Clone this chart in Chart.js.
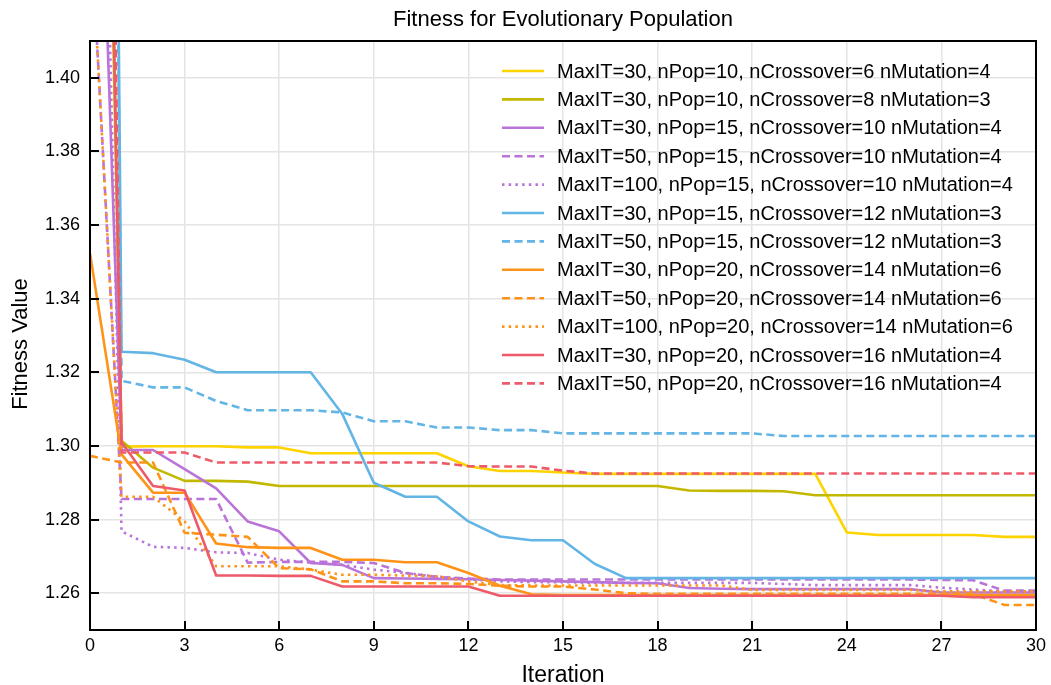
<!DOCTYPE html>
<html>
<head>
<meta charset="utf-8">
<script src="https://cdn.jsdelivr.net/npm/chart.js@4.4.0/dist/chart.umd.min.js"></script>
<style>
  html, body { margin: 0; padding: 0; background: #ffffff; }
  #wrap { width: 1051px; height: 685px; }
</style>
</head>
<body>
<div id="wrap"><canvas id="fitness" width="1051" height="685"></canvas></div>
<script>
// Iterations on the x axis
const iterations = [0,1,2,3,4,5,6,7,8,9,10,11,12,13,14,15,16,17,18,19,20,21,22,23,24,25,26,27,28,29,30];
const xTicks = [0,3,6,9,12,15,18,21,24,27,30];
const yTicks = [1.26,1.28,1.30,1.32,1.34,1.36,1.38,1.40];

const seriesLabels = [
  'MaxIT=30, nPop=10, nCrossover=6 nMutation=4',
  'MaxIT=30, nPop=10, nCrossover=8 nMutation=3',
  'MaxIT=30, nPop=15, nCrossover=10 nMutation=4',
  'MaxIT=50, nPop=15, nCrossover=10 nMutation=4',
  'MaxIT=100, nPop=15, nCrossover=10 nMutation=4',
  'MaxIT=30, nPop=15, nCrossover=12 nMutation=3',
  'MaxIT=50, nPop=15, nCrossover=12 nMutation=3',
  'MaxIT=30, nPop=20, nCrossover=14 nMutation=6',
  'MaxIT=50, nPop=20, nCrossover=14 nMutation=6',
  'MaxIT=100, nPop=20, nCrossover=14 nMutation=6',
  'MaxIT=30, nPop=20, nCrossover=16 nMutation=4',
  'MaxIT=50, nPop=20, nCrossover=16 nMutation=4'
];

// Best fitness per iteration for each configuration
const fit30_10_6 = [1.78,1.2998,1.2999,1.2999,1.2999,1.2996,1.2996,1.2980,1.2980,1.2980,1.2980,1.2980,1.2945,1.2932,1.2932,1.2928,1.2924,1.2924,1.2924,1.2924,1.2924,1.2924,1.2924,1.2924,1.2765,1.2758,1.2758,1.2758,1.2758,1.2753,1.2753];
const fit30_10_8 = [1.72,1.3014,1.2941,1.2905,1.2905,1.2903,1.2891,1.2891,1.2891,1.2891,1.2891,1.2891,1.2891,1.2891,1.2891,1.2891,1.2891,1.2891,1.2891,1.2879,1.2878,1.2878,1.2877,1.2866,1.2866,1.2866,1.2866,1.2866,1.2866,1.2866,1.2866];
const fit30_15_10 = [1.55,1.2989,1.2989,1.2937,1.2885,1.2795,1.2768,1.2682,1.2677,1.2641,1.2640,1.2639,1.2638,1.2636,1.2634,1.2632,1.2630,1.2628,1.2627,1.2614,1.2612,1.2611,1.2611,1.2611,1.2611,1.2611,1.2611,1.2602,1.2602,1.2602,1.2602];
const fit50_15_10 = [1.445,1.2856,1.2856,1.2856,1.2856,1.2683,1.2685,1.2685,1.2685,1.2682,1.2655,1.2644,1.2640,1.2637,1.2637,1.2637,1.2637,1.2637,1.2637,1.2637,1.2637,1.2637,1.2637,1.2637,1.2637,1.2637,1.2637,1.2636,1.2635,1.2607,1.2607];
const fit100_15_10 = [1.64,1.2768,1.2726,1.2723,1.2711,1.2709,1.2691,1.2683,1.2677,1.2664,1.2655,1.2645,1.2638,1.2632,1.2630,1.2630,1.2628,1.2628,1.2628,1.2628,1.2628,1.2628,1.2625,1.2622,1.2622,1.2622,1.2622,1.2615,1.2610,1.2605,1.2603];
const fit30_15_12 = [2.30,1.3256,1.3252,1.3234,1.3200,1.3200,1.3200,1.3200,1.3087,1.2900,1.2862,1.2862,1.2795,1.2754,1.2744,1.2744,1.2680,1.2641,1.2641,1.2641,1.2641,1.2641,1.2641,1.2641,1.2641,1.2641,1.2641,1.2641,1.2641,1.2641,1.2641];
const fit50_15_12 = [2.20,1.3177,1.3159,1.3159,1.3122,1.3097,1.3097,1.3097,1.3091,1.3067,1.3067,1.3050,1.3050,1.3043,1.3043,1.3034,1.3034,1.3034,1.3034,1.3034,1.3034,1.3034,1.3027,1.3027,1.3027,1.3027,1.3027,1.3027,1.3027,1.3027,1.3027];
const fit30_20_14 = [1.3523,1.2977,1.2873,1.2873,1.2735,1.2725,1.2723,1.2723,1.2691,1.2691,1.2684,1.2684,1.2655,1.2620,1.2597,1.2595,1.2595,1.2595,1.2595,1.2595,1.2595,1.2595,1.2595,1.2595,1.2595,1.2595,1.2595,1.2595,1.2595,1.2595,1.2595];
const fit50_20_14 = [1.2973,1.2955,1.2955,1.2764,1.2759,1.2753,1.2668,1.2665,1.2632,1.2632,1.2627,1.2627,1.2625,1.2620,1.2618,1.2618,1.2610,1.2600,1.2598,1.2598,1.2598,1.2598,1.2598,1.2598,1.2598,1.2598,1.2598,1.2598,1.2598,1.2568,1.2568];
const fit100_20_14 = [1.445,1.2862,1.2862,1.2795,1.2673,1.2673,1.2673,1.2664,1.2650,1.2650,1.2648,1.2646,1.2632,1.2622,1.2621,1.2621,1.2621,1.2621,1.2621,1.2621,1.2621,1.2609,1.2609,1.2609,1.2609,1.2609,1.2609,1.2605,1.2605,1.2605,1.2605];
const fit30_20_16 = [1.76,1.3010,1.2891,1.2879,1.2648,1.2648,1.2647,1.2647,1.2618,1.2618,1.2618,1.2618,1.2618,1.2593,1.2593,1.2593,1.2593,1.2593,1.2593,1.2593,1.2593,1.2593,1.2593,1.2593,1.2593,1.2593,1.2593,1.2593,1.2589,1.2589,1.2589];
const fit50_20_16 = [1.90,1.2982,1.2982,1.2982,1.2955,1.2955,1.2955,1.2955,1.2955,1.2955,1.2955,1.2955,1.2945,1.2944,1.2944,1.2933,1.2925,1.2925,1.2925,1.2925,1.2925,1.2925,1.2925,1.2925,1.2925,1.2925,1.2925,1.2925,1.2925,1.2925,1.2925];

const seriesValues = [fit30_10_6, fit30_10_8, fit30_15_10, fit50_15_10, fit100_15_10, fit30_15_12,
                      fit50_15_12, fit30_20_14, fit50_20_14, fit100_20_14, fit30_20_16, fit50_20_16];

// Line styles
const DASH = [8, 4.5];
const DOT = [2.5, 4.2];
const styles = [
  { color: '#FFD300', dash: [] },
  { color: '#C2B800', dash: [] },
  { color: '#BA74D8', dash: [] },
  { color: '#BA74D8', dash: DASH },
  { color: '#BA74D8', dash: DOT },
  { color: '#62B5E5', dash: [] },
  { color: '#62B5E5', dash: DASH },
  { color: '#FF9317', dash: [] },
  { color: '#FF9317', dash: DASH },
  { color: '#FF9317', dash: DOT },
  { color: '#EE5A69', dash: [] },
  { color: '#EE5A69', dash: DASH }
];

const FONT = '"Liberation Sans", Arial, Helvetica, sans-serif';
const LINE_W = 2.6;

const datasets = seriesValues.map((vals, i) => ({
  label: seriesLabels[i],
  data: vals.map((v, k) => ({ x: iterations[k], y: v })),
  borderColor: styles[i].color,
  backgroundColor: styles[i].color,
  borderDash: styles[i].dash,
  borderCapStyle: 'butt',
  borderJoinStyle: 'round',
  borderWidth: LINE_W,
  pointRadius: 0,
  pointHoverRadius: 0,
  tension: 0,
  fill: false,
  clip: 0,
  // later series are painted over earlier ones
  order: seriesValues.length - i
}));

// Frame, inward ticks, titles and in-plot legend
const decorations = {
  id: 'decorations',
  afterDraw(chart) {
    const ctx = chart.ctx;
    const ca = chart.chartArea;
    const xs = chart.scales.x, ys = chart.scales.y;
    ctx.save();

    // inward tick marks
    ctx.strokeStyle = '#000';
    ctx.lineWidth = 2;
    ctx.beginPath();
    xTicks.forEach(v => {
      const px = Math.round(xs.getPixelForValue(v));
      ctx.moveTo(px, ca.bottom);
      ctx.lineTo(px, ca.bottom - 9);
    });
    yTicks.forEach(v => {
      const py = Math.round(ys.getPixelForValue(v));
      ctx.moveTo(ca.left, py);
      ctx.lineTo(ca.left + 9, py);
    });
    ctx.stroke();

    // plot frame
    ctx.lineWidth = 2;
    ctx.strokeRect(ca.left, ca.top, ca.right - ca.left, ca.bottom - ca.top);

    // titles
    ctx.fillStyle = '#000';
    ctx.textAlign = 'center';
    ctx.textBaseline = 'middle';
    ctx.font = '22px ' + FONT;
    ctx.fillText('Fitness for Evolutionary Population', (ca.left + ca.right) / 2, 20);
    ctx.font = '23px ' + FONT;
    ctx.fillText('Iteration', (ca.left + ca.right) / 2, 676);
    ctx.save();
    ctx.translate(21, 344);
    ctx.rotate(-Math.PI / 2);
    ctx.font = '22px ' + FONT;
    ctx.fillText('Fitness Value', 0, 0);
    ctx.restore();

    // legend inside the plot, upper right
    ctx.font = '20px ' + FONT;
    ctx.textAlign = 'left';
    const lx0 = ca.right - 534, lx1 = ca.right - 492, tx = ca.right - 479;
    const rowH = 28.4;
    chart.data.datasets.forEach((ds, i) => {
      const y = ca.top + 30 + i * rowH;
      ctx.strokeStyle = ds.borderColor;
      ctx.lineWidth = LINE_W;
      ctx.lineCap = 'butt';
      ctx.setLineDash(ds.borderDash || []);
      ctx.beginPath();
      ctx.moveTo(lx0, y);
      ctx.lineTo(lx1, y);
      ctx.stroke();
      ctx.setLineDash([]);
      ctx.fillStyle = '#000';
      ctx.fillText(ds.label, tx, y + 1);
    });
    ctx.restore();
  }
};

new Chart(document.getElementById('fitness'), {
  type: 'line',
  data: { datasets },
  plugins: [decorations],
  options: {
    responsive: false,
    animation: false,
    devicePixelRatio: 1,
    layout: { padding: { top: 41, right: 15, left: 0, bottom: 0 } },
    plugins: {
      legend: { display: false },
      title: { display: false },
      tooltip: { enabled: false }
    },
    scales: {
      x: {
        type: 'linear',
        min: 0,
        max: 30,
        afterBuildTicks: s => { s.ticks = xTicks.map(v => ({ value: v })); },
        afterFit: s => { s.height = 55; },
        grid: { color: '#e4e4e4', lineWidth: 1.5, drawTicks: false },
        border: { display: false },
        ticks: {
          padding: 5,
          color: '#000',
          font: { family: FONT, size: 18 },
          maxRotation: 0,
          callback: v => String(v)
        }
      },
      y: {
        type: 'linear',
        min: 1.25,
        max: 1.41,
        afterBuildTicks: s => { s.ticks = yTicks.map(v => ({ value: v })); },
        afterFit: s => { s.width = 90; },
        grid: { color: '#e4e4e4', lineWidth: 1.5, drawTicks: false },
        border: { display: false },
        ticks: {
          padding: 10,
          color: '#000',
          font: { family: FONT, size: 18 },
          callback: v => v.toFixed(2)
        }
      }
    }
  }
});
</script>
</body>
</html>
